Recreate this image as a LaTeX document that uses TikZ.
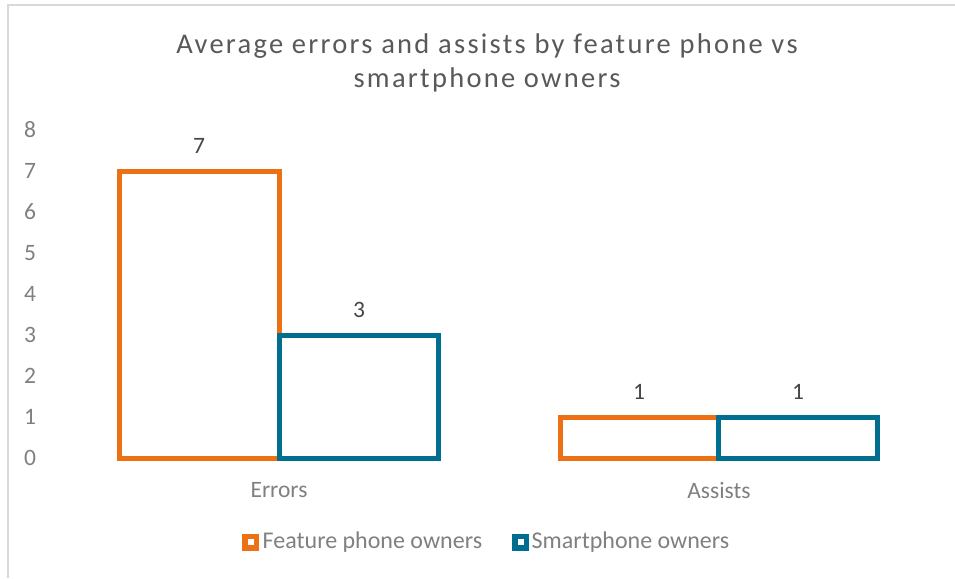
\documentclass[tikz,border=0pt]{standalone}
\usepackage{fontspec}
\setmainfont{Carlito}
\newfontfamily\titlefont[LetterSpace=8]{Carlito}
\definecolor{forange}{RGB}{237,113,20}
\definecolor{sblue}{RGB}{0,110,143}
\definecolor{framegray}{RGB}{217,217,217}
\definecolor{titlegray}{RGB}{89,89,89}
\definecolor{tickgray}{RGB}{128,128,128}
\definecolor{valgray}{RGB}{70,70,70}
\begin{document}
\begin{tikzpicture}[x=1pt,y=-1pt,
  tick/.style={font=\fontsize{23.5}{23.5}\selectfont, text=tickgray, inner sep=0pt},
  vallab/.style={font=\fontsize{23.5}{23.5}\selectfont, text=valgray, inner sep=0pt},
  catlab/.style={font=\fontsize{23.5}{23.5}\selectfont, text=tickgray, inner sep=0pt},
  leglab/.style={font=\fontsize{24}{24}\selectfont, text=tickgray, inner sep=0pt, anchor=west},
  barF/.style={draw=forange, line width=5pt},
  barS/.style={draw=sblue, line width=5pt},
  legbox/.style={draw=#1, line width=5.5pt, minimum size=11.5pt, inner sep=0pt}]
\useasboundingbox (0,0) rectangle (955,578);
\fill[white] (0,0) rectangle (955,578);
\draw[framegray, line width=2pt] (7.5,578) -- (7.5,5) -- (955,5);
% title
\node[font=\titlefont\fontsize{28.5}{28.5}\selectfont, text=titlegray] (title) at (487,46) {Average errors and assists by feature phone vs};
\node[font=\titlefont\fontsize{28.5}{28.5}\selectfont, text=titlegray] (title2) at (487,80) {smartphone owners};
% ticks
\foreach \v in {0,...,8}{
  \node[tick] (t\v) at (30,{458-41*\v}) {\v};
}
% bars
\draw[barF] (119.5,458) rectangle (279,171.5);
\draw[barS] (279,458) rectangle (438,335.5);
\draw[barF] (560,458) rectangle (718,417.5);
\draw[barS] (718,458) rectangle (877.5,417.5);
% value labels
\node[vallab] (v1) at (199,146) {7};
\node[vallab] (v2) at (359,310) {3};
\node[vallab] (v3) at (639,392) {1};
\node[vallab] (v4) at (798,392) {1};
% categories
\node[catlab] (c1) at (279,490) {Errors};
\node[catlab] (c2) at (719,490) {Assists};
% legend
\node[legbox=forange] (lf) at (250.5,542) {};
\node[leglab] (lft) at (262.5,542) {Feature phone owners};
\node[legbox=sblue] (ls) at (520.5,542) {};
\node[leglab] (lst) at (531.5,542) {Smartphone owners};
\end{tikzpicture}
\end{document}
